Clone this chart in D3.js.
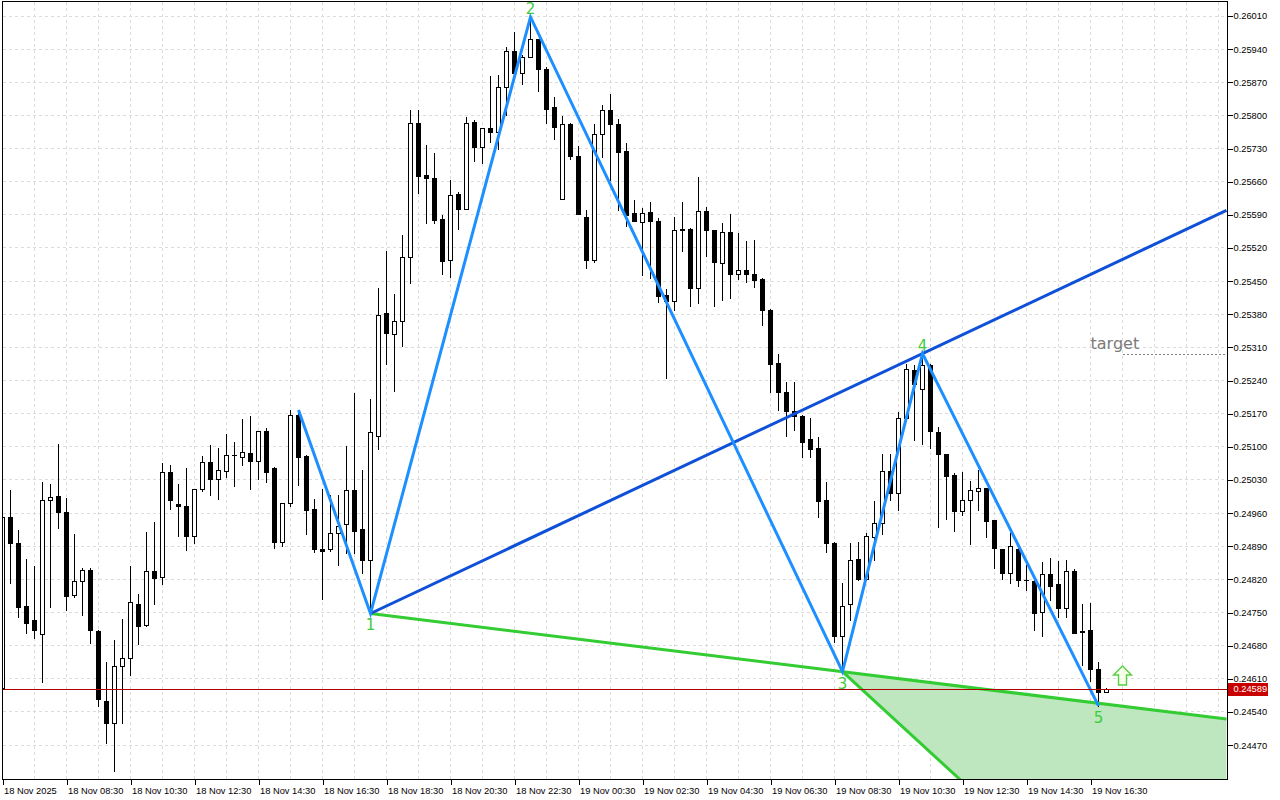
<!DOCTYPE html>
<html><head><meta charset="utf-8">
<script src="https://cdn.jsdelivr.net/npm/d3@7"></script>
<style>
body{margin:0;background:#fff}
svg{display:block}
text{font-family:"Liberation Sans",Arial,sans-serif}
</style>
</head><body>
<svg id="c" width="1280" height="800"></svg>
<script>
// ---------- DATA ----------
const barStart = "2025-11-18 06:30";
const barMinutes = 15;

const opens = [.24590,.24951,.24896,.24763,.24735,.24704,.24987,.24997,.24962,.24788,
 .24816,.24839,.24711,.24563,.24516,.24638,.24655,.24767,.24724,.24837,
 .24826,.25047,.24979,.24974,.24912,.25010,.25068,.25033,.25050,.25082,
 .25078,.25087,.25071,.25133,.25055,.24899,.24981,.25167,.25080,.24968,
 .24885,.24885,.24919,.24936,.25008,.24926,.24861,.25122,.25382,.25338,
 .25365,.25502,.25785,.25674,.25667,.25581,.25495,.25633,.25602,.25786,
 .25733,.25773,.25766,.25859,.25936,.25889,.25924,.25961,.25899,.25818,
 .25623,.25782,.25714,.25585,.25494,.25760,.25811,.25782,.25725,.25593,
 .25574,.25595,.25578,.25421,.25409,.25561,.25561,.25436,.25599,.25557,
 .25488,.25553,.25466,.25473,.25466,.25454,.25390,.25278,.25216,.25175,
 .25166,.25116,.25097,.24987,.24896,.24700,.24769,.24864,.24820,.24910,
 .24940,.25048,.25002,.25160,.25262,.25223,.25273,.25132,.25085,.25040,
 .24964,.24987,.25007,.25012,.24945,.24884,.24834,.24885,.24818,.24817,
 .24752,.24831,.24810,.24759,.24837,.24708,.24713,.24630,.24583];

const highs = [.24954,.25009,.24924,.24864,.24848,.25026,.25021,.25106,.24991,.24916,
 .24845,.24845,.24714,.24646,.24692,.24736,.24848,.24789,.24920,.24941,
 .25066,.25061,.25021,.25055,.25011,.25080,.25103,.25097,.25127,.25111,
 .25159,.25165,.25133,.25139,.25057,.24981,.25178,.25178,.25082,.24990,
 .25011,.24998,.24998,.25102,.25213,.25052,.25201,.25435,.25514,.25422,
 .25547,.25811,.25811,.25737,.25720,.25590,.25664,.25638,.25796,.25790,
 .25773,.25883,.25885,.25945,.25976,.25928,.26008,.25961,.25903,.25838,
 .25799,.25783,.25735,.25600,.25781,.25823,.25845,.25792,.25742,.25621,
 .25604,.25617,.25583,.25433,.25585,.25617,.25563,.25670,.25606,.25559,
 .25572,.25591,.25551,.25535,.25536,.25456,.25391,.25296,.25236,.25237,
 .25168,.25160,.25120,.25025,.24899,.24812,.24896,.24899,.24918,.24985,
 .25084,.25084,.25173,.25276,.25273,.25297,.25275,.25142,.25085,.25044,
 .25047,.25028,.25052,.25013,.24946,.24885,.24917,.24887,.24850,.24819,
 .24857,.24866,.24859,.24862,.24841,.24768,.24770,.24645,.24590];

const lows = [.24588,.24812,.24741,.24707,.24697,.24604,.24762,.24929,.24755,.24783,
 .24745,.24686,.24553,.24475,.24416,.24516,.24618,.24683,.24722,.24768,
 .24811,.24969,.24912,.24883,.24897,.25007,.24999,.24990,.25037,.25018,
 .25062,.25011,.25032,.25026,.24887,.24891,.24975,.25020,.24916,.24877,
 .24779,.24881,.24850,.24875,.24875,.24833,.24748,.25095,.25274,.25218,
 .25314,.25447,.25637,.25573,.25573,.25466,.25459,.25561,.25602,.25704,
 .25700,.25744,.25730,.25801,.25890,.25866,.25924,.25852,.25785,.25751,
 .25623,.25709,.25591,.25477,.25490,.25713,.25664,.25600,.25567,.25576,
 .25463,.25456,.25406,.25245,.25389,.25514,.25398,.25404,.25504,.25398,
 .25411,.25415,.25454,.25449,.25438,.25357,.25216,.25178,.25123,.25135,
 .25079,.25079,.24951,.24878,.24688,.24625,.24734,.24819,.24819,.24861,
 .24916,.24988,.24966,.25157,.25114,.25107,.25097,.24931,.24947,.24923,
 .24956,.24895,.24966,.24910,.24844,.24821,.24813,.24806,.24797,.24713,
 .24700,.24776,.24741,.24741,.24706,.24639,.24606,.24553,.24583];

const closes = [.24952,.24896,.24761,.24727,.24714,.24987,.24995,.24962,.24785,.24816,
 .24839,.24714,.24568,.24517,.24638,.24655,.24772,.24722,.24837,.24823,
 .25047,.24987,.24974,.24912,.25010,.25067,.25033,.25051,.25082,.25082,
 .25089,.25071,.25133,.25047,.24899,.24981,.25167,.25079,.24967,.24885,
 .24880,.24919,.24932,.25008,.24923,.24862,.25131,.25378,.25340,.25365,
 .25500,.25785,.25673,.25667,.25580,.25493,.25631,.25602,.25783,.25733,
 .25773,.25766,.25859,.25936,.25890,.25924,.25961,.25899,.25814,.25776,
 .25781,.25715,.25592,.25494,.25760,.25811,.25781,.25723,.25590,.25578,
 .25593,.25578,.25419,.25409,.25559,.25559,.25436,.25599,.25557,.25491,
 .25553,.25466,.25473,.25466,.25453,.25390,.25276,.25216,.25175,.25166,
 .25111,.25095,.24986,.24896,.24700,.24763,.24862,.24820,.24911,.24940,
 .25048,.25002,.25160,.25264,.25232,.25273,.25134,.25084,.25039,.24965,
 .24988,.25009,.25012,.24944,.24887,.24834,.24890,.24819,.24818,.24749,
 .24831,.24806,.24759,.24837,.24707,.24712,.24630,.24583,.24589];

const priceTicks = [0.24470,0.24540,0.24610,0.24680,0.24750,0.24820,0.24890,0.24960,
 0.25030,0.25100,0.25170,0.25240,0.25310,0.25380,0.25450,0.25520,0.25590,0.25660,
 0.25730,0.25800,0.25870,0.25940,0.26010];

const timeTickLabels = ["18 Nov 2025","18 Nov 08:30","18 Nov 10:30","18 Nov 12:30",
 "18 Nov 14:30","18 Nov 16:30","18 Nov 18:30","18 Nov 20:30","18 Nov 22:30",
 "19 Nov 00:30","19 Nov 02:30","19 Nov 04:30","19 Nov 06:30","19 Nov 08:30",
 "19 Nov 10:30","19 Nov 12:30","19 Nov 14:30","19 Nov 16:30"];
const tickEveryBars = 8;   // 2 hours
const gridEveryBars = 4;   // 1 hour

// wave (zigzag) points: bar index and price
const waveBars   = [37, 46, 66, 105, 115, 137];
const wavePrices = [0.25178, 0.24748, 0.26008, 0.24625, 0.25297, 0.24553];
const waveLabels = ["", "1", "2", "3", "4", "5"];
const waveAbove  = [true, false, true, false, true, false];

// projection line from point 3
const projBars   = [105, 121];
const projPrices = [0.24625, 0.24377];

const targetPrice = 0.25297;
const targetTextBar = 136;
const targetLineBar = 140;
const arrowBar = 140;
const arrowPrice = 0.24637;
const lastPrice = 0.24589;
const visibleBars = 153;

// ---------- LAYOUT ----------
const L = 2.5, R = 1227.5, T = 1.5, B = 779.5;
const svg = d3.select("#c");
const xScale = d3.scaleLinear().domain([0, visibleBars]).range([2.5, 1226.5]);
const yScale = d3.scaleLinear().domain([0.24470, 0.26010]).range([745.1, 16]);
const crisp = v => Math.round(v) + 0.5;

svg.append("defs").append("clipPath").attr("id","plot")
  .append("rect").attr("x",L+0.5).attr("y",T+0.5).attr("width",R-L-1).attr("height",B-T-1);

const plot = svg.append("g").attr("clip-path","url(#plot)");

// grid
const grid = plot.append("g").attr("stroke","#dcdcdc").attr("stroke-dasharray","3,3")
  .attr("shape-rendering","crispEdges");
grid.selectAll("line.h").data(priceTicks).join("line").attr("class","h")
  .attr("x1",L).attr("x2",R).attr("y1",d=>crisp(yScale(d)-0.5)).attr("y2",d=>crisp(yScale(d)-0.5));
const gridBars = d3.range(gridEveryBars, visibleBars+1, gridEveryBars);
grid.selectAll("line.v").data(gridBars).join("line").attr("class","v")
  .attr("y1",T).attr("y2",B).attr("x1",d=>xScale(d)).attr("x2",d=>xScale(d));

// wave points
const pts = waveBars.map((b,i)=>({bar:b, price:wavePrices[i], label:waveLabels[i], above:waveAbove[i]}));
const extend = (a,b,bar)=>({bar, price:a.price+(b.price-a.price)*(bar-a.bar)/(b.bar-a.bar)});
const p1 = pts[1], p3 = pts[3], p4 = pts[4];
const greenEnd = extend(p1, p3, visibleBars);
const blueEnd  = extend(p1, p4, visibleBars);
const projA = {bar:projBars[0], price:projPrices[0]};
const projB = {bar:projBars[1], price:projPrices[1]};
const below = yScale.invert(B + 20);
const lineGen = d3.line().x(d=>xScale(d.bar)).y(d=>yScale(d.price));

// fill area
plot.append("path")
  .attr("d", lineGen([p3, greenEnd, {bar:visibleBars, price:below}, {bar:projB.bar, price:below}, projB]) + "Z")
  .attr("fill","#bfe7bf").attr("stroke","none");

// candles
const bars = opens.map((o,i)=>({i, o, h:highs[i], l:lows[i], c:closes[i]}));
const cg = plot.append("g").attr("shape-rendering","crispEdges");
bars.forEach(d=>{
  const cx = xScale(d.i);
  cg.append("line").attr("x1",cx).attr("x2",cx)
    .attr("y1",Math.round(yScale(d.h))).attr("y2",Math.round(yScale(d.l))+1)
    .attr("stroke","#000").attr("stroke-width",1);
  const yt = crisp(yScale(Math.max(d.o,d.c))), yb = crisp(yScale(Math.min(d.o,d.c)));
  if (yb - yt < 1) {
    cg.append("line").attr("x1",cx-2.5).attr("x2",cx+2.5).attr("y1",yt).attr("y2",yt)
      .attr("stroke","#000");
  } else {
    cg.append("rect").attr("x",cx-2).attr("width",4).attr("y",yt).attr("height",yb-yt)
      .attr("fill", d.c >= d.o ? "#fff" : "#000").attr("stroke","#000").attr("stroke-width",1);
  }
});

// projection + green lines
plot.append("path").attr("d", lineGen([projA, projB])).attr("fill","none")
  .attr("stroke","#33cc33").attr("stroke-width",3);
plot.append("path").attr("d", lineGen([p1, greenEnd])).attr("fill","none")
  .attr("stroke","#33cc33").attr("stroke-width",3);
// blue line 1-4 extended
plot.append("path").attr("d", lineGen([p1, blueEnd])).attr("fill","none")
  .attr("stroke","#0f50d8").attr("stroke-width",3);
// zigzag
plot.append("path").attr("d", lineGen(pts)).attr("fill","none")
  .attr("stroke","#1e8fff").attr("stroke-width",3).attr("stroke-linejoin","miter");

// labels
svg.selectAll("text.w").data(pts.filter(p=>p.label)).join("text").attr("class","w")
  .attr("x",d=>xScale(d.bar)).attr("y",d=>yScale(d.price) + (d.above ? -3 : 17))
  .attr("text-anchor","middle").attr("fill","#3ccc3c")
  .style("font-family","'DejaVu Sans',sans-serif").style("font-size","15px")
  .text(d=>d.label);

// target
plot.append("line").attr("x1",xScale(targetLineBar)).attr("x2",R)
  .attr("y1",crisp(yScale(targetPrice))).attr("y2",crisp(yScale(targetPrice)))
  .attr("stroke","#808080").attr("stroke-dasharray","2,2").attr("shape-rendering","crispEdges");
plot.append("text").attr("x",xScale(targetTextBar)).attr("y",yScale(targetPrice)-5)
  .attr("fill","#7a7a7a").style("font-family","'DejaVu Sans',sans-serif").style("font-size","16px")
  .text("target");

// arrow
const ax = xScale(arrowBar), ay = yScale(arrowPrice);
plot.append("path")
  .attr("d",`M${ax},${ay} L${ax+9},${ay+9} L${ax+4},${ay+9} L${ax+4},${ay+19} L${ax-4},${ay+19} L${ax-4},${ay+9} L${ax-9},${ay+9} Z`)
  .attr("fill","#f6ffe8").attr("stroke","#55d040").attr("stroke-width",1.4);

// last price line
const ly = crisp(yScale(lastPrice));
plot.append("line").attr("x1",L).attr("x2",R).attr("y1",ly).attr("y2",ly)
  .attr("stroke","#b00000").attr("shape-rendering","crispEdges");

// frame
svg.append("rect").attr("x",L).attr("y",T).attr("width",R-L).attr("height",B-T)
  .attr("fill","none").attr("stroke","#000").attr("shape-rendering","crispEdges");

// y axis
const yAxis = svg.append("g").attr("transform",`translate(${R},0)`)
  .call(d3.axisRight(yScale).tickValues(priceTicks).tickSize(5).tickSizeOuter(0).tickPadding(1)
    .tickFormat(d3.format(".5f")));
yAxis.select(".domain").remove();
yAxis.selectAll("line").attr("stroke","#000").attr("shape-rendering","crispEdges");
yAxis.selectAll("text").style("font-size","9.3px").attr("fill","#000");

// x axis
const tickBars = timeTickLabels.map((_,i)=>i*tickEveryBars);
const xAxis = svg.append("g").attr("transform",`translate(0,${B})`)
  .call(d3.axisBottom(xScale).tickValues(tickBars).tickSize(5).tickSizeOuter(0).tickPadding(3)
    .tickFormat((d,i)=>timeTickLabels[i]));
xAxis.select(".domain").remove();
xAxis.selectAll("line").attr("stroke","#000").attr("shape-rendering","crispEdges");
xAxis.selectAll("text").style("font-size","9.3px").attr("fill","#000")
  .attr("text-anchor","start").attr("dx","1");

// last price box
svg.append("rect").attr("x",R+0.5).attr("y",Math.round(yScale(lastPrice))-6).attr("width",40).attr("height",13)
  .attr("fill","#c80000");
svg.append("text").attr("x",R+6).attr("y",yScale(lastPrice)).attr("dy","0.35em")
  .attr("fill","#fff").style("font-size","9.3px").text(d3.format(".5f")(lastPrice));
</script>
</body></html>
